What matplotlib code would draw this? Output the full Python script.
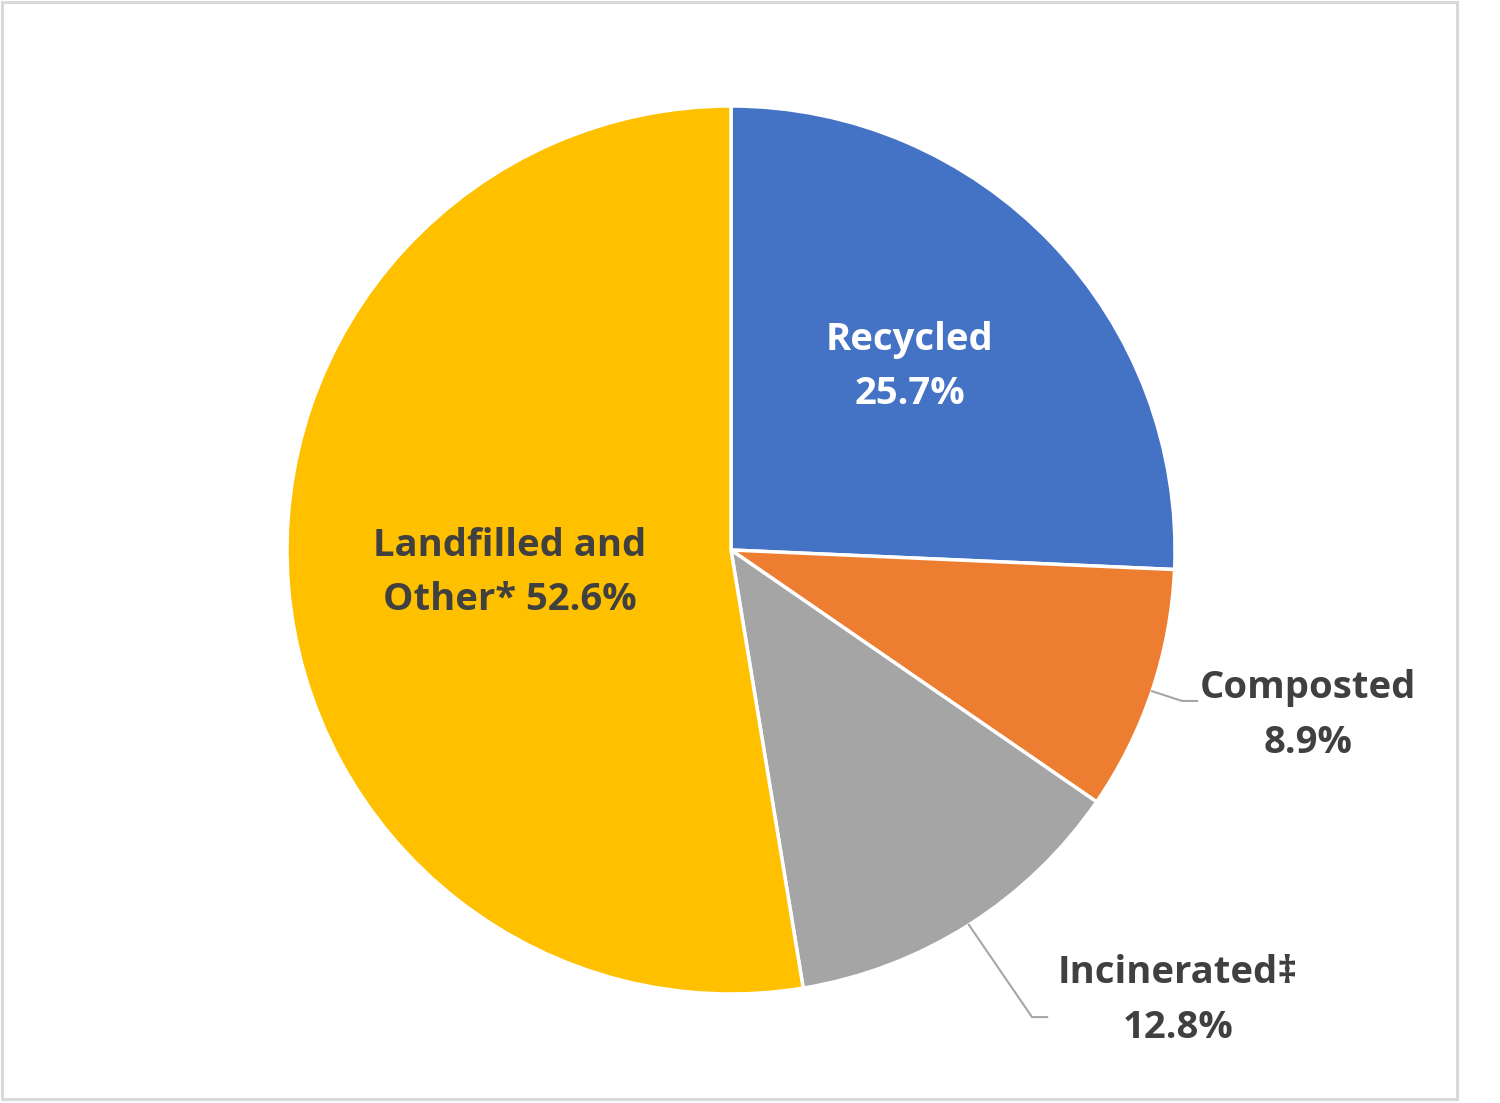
import numpy as np
import matplotlib
matplotlib.use("Agg")
import matplotlib.pyplot as plt
from matplotlib.patches import Rectangle

categories = ["Recycled", "Composted", "Incinerated\u2021", "Landfilled and\nOther*"]
values = [25.7, 8.9, 12.8, 52.6]
colors = ["#4472C4", "#ED7D31", "#A5A5A5", "#FFC000"]

plt.rcParams['font.family'] = ['Open Sans', 'DejaVu Sans']

W, H = 1500, 1103
fig = plt.figure(figsize=(W / 100, H / 100), dpi=100)
fig.patch.set_facecolor("white")

cx, cy, R = 731, 550, 444
ax = fig.add_axes([(cx - R) / W, (H - cy - R) / H, 2 * R / W, 2 * R / H])
wedges, _ = ax.pie(values, colors=colors, startangle=90, counterclock=False,
                   radius=1, wedgeprops=dict(edgecolor="white", linewidth=2.5))
ax.set_xlim(-1, 1)
ax.set_ylim(-1, 1)
ax.axis("off")

fs = 27.5
ls = 1.58
txt = "#404040"

# Inside labels
ax.text(0.403, 0.412, f"{categories[0]}\n{values[0]}%", ha="center", va="center",
        fontsize=fs, fontweight="bold", color="white", linespacing=ls)
ax.text(-0.498, -0.052, f"Landfilled and\nOther* {values[3]}%", ha="center", va="center",
        fontsize=fs, fontweight="bold", color=txt, linespacing=ls)

# Outside labels with leader lines
def mid_angle(w):
    return np.deg2rad((w.theta1 + w.theta2) / 2)

lc = "#A6A6A6"
a = mid_angle(wedges[1])
p0 = (np.cos(a), np.sin(a))
ax.plot([p0[0], 1.016, 1.050], [p0[1], -0.340, -0.340], color=lc, lw=1.5, clip_on=False)
ax.text(1.300, -0.372, f"{categories[1]}\n{values[1]}%", ha="center", va="center",
        fontsize=fs, fontweight="bold", color=txt, linespacing=ls)

a = mid_angle(wedges[2])
p0 = (np.cos(a), np.sin(a))
ax.plot([p0[0], 0.678, 0.712], [p0[1], -1.052, -1.052], color=lc, lw=1.5, clip_on=False)
ax.text(1.007, -1.014, f"{categories[2]}\n{values[2]}%", ha="center", va="center",
        fontsize=fs, fontweight="bold", color=txt, linespacing=ls)

# Chart border
fig.patches.append(Rectangle((1.5 / W, 4.5 / H), 1455 / W, 1097 / H, transform=fig.transFigure,
                             fill=False, edgecolor="#D9D9D9", linewidth=2.2))

fig.savefig("out.png", dpi=100, facecolor="white")
